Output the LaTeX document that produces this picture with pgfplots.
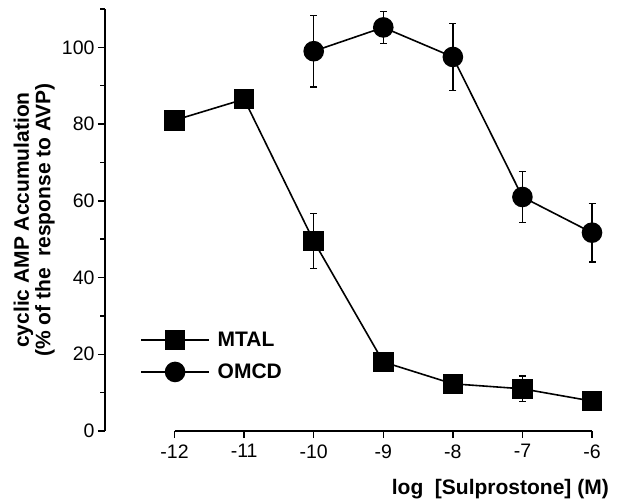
\documentclass[border=0pt]{standalone}
\usepackage{fontspec}
\setmainfont{Liberation Sans}
\usepackage{pgfplots}
\pgfplotsset{compat=1.18}
\begin{document}
\begin{tikzpicture}
\begin{axis}[
  scale only axis,
  width=487pt, height=422pt,
  xmin=-13, xmax=-6,
  ymin=0, ymax=110,
  axis lines=left,
  axis line style={-, line width=2pt},
  x axis line style={shorten <=69.6pt},
  tick align=outside,
  tick style={black, line width=1.5pt},
  major tick length=7pt,
  minor tick length=4.5pt,
  xtick={-12,-11,-10,-9,-8,-7,-6},
  ytick={0,20,40,60,80,100},
  minor ytick={10,30,50,70,90,110},
  /pgf/number format/assume math mode=true,
  tick label style={font=\fontsize{19.5}{21}\selectfont},
  xticklabel style={yshift=-3pt},
  clip=false,
  xlabel={log\ \ [Sulprostone] (M)},
  xlabel style={at={(rel axis cs:1,0)}, anchor=north east, xshift=17pt, yshift=-48pt, font=\fontsize{21}{23}\selectfont\bfseries, inner sep=0pt},
  ylabel={cyclic AMP Accumulation\\(\% of the\ \ response to AVP)},
  ylabel style={at={([xshift=-50pt]rel axis cs:0,0.5)}, anchor=south, align=center, font=\fontsize{21}{21.5}\selectfont\bfseries, inner sep=0pt},
  legend style={at={(rel axis cs:0.072,0.24)}, anchor=north west, draw=none, fill=none, font=\fontsize{21}{23}\selectfont\bfseries, row sep=12pt, inner sep=0pt, legend cell align=left},
  legend image code/.code={\draw[#1,mark repeat=2,mark phase=2] plot coordinates {(0pt,0pt)(34pt,0pt)(68pt,0pt)};},
]
\addplot[black, line width=1.6pt, mark=square*, mark size=9.5pt, mark options={solid, fill=black},
  error bars/.cd, y dir=both, y explicit, error mark options={rotate=90, black, line width=1.5pt, mark size=3.5pt}, error bar style={line width=1.5pt}]
  coordinates {
  (-12,81) +- (0,0)
  (-11,86.5) +- (0,0)
  (-10,49.5) +- (0,7.2)
  (-9,18) +- (0,0)
  (-8,12.3) +- (0,0)
  (-7,11) +- (0,3.3)
  (-6,7.8) +- (0,0)
};
\addlegendentry{\ MTAL}
\addplot[black, line width=1.6pt, mark=*, mark size=9.5pt, mark options={solid, fill=black},
  error bars/.cd, y dir=both, y explicit, error mark options={rotate=90, black, line width=1.5pt, mark size=3.5pt}, error bar style={line width=1.5pt}]
  coordinates {
  (-10,99) +- (0,9.3)
  (-9,105.2) +- (0,4.2)
  (-8,97.5) +- (0,8.7)
  (-7,61) +- (0,6.7)
  (-6,51.7) +- (0,7.6)
};
\addlegendentry{\ OMCD}
\end{axis}
\pgfresetboundingbox
\path ([shift={(-105pt,-68pt)}]current axis.south west) rectangle ++(618pt,499pt);
\end{tikzpicture}
\end{document}
